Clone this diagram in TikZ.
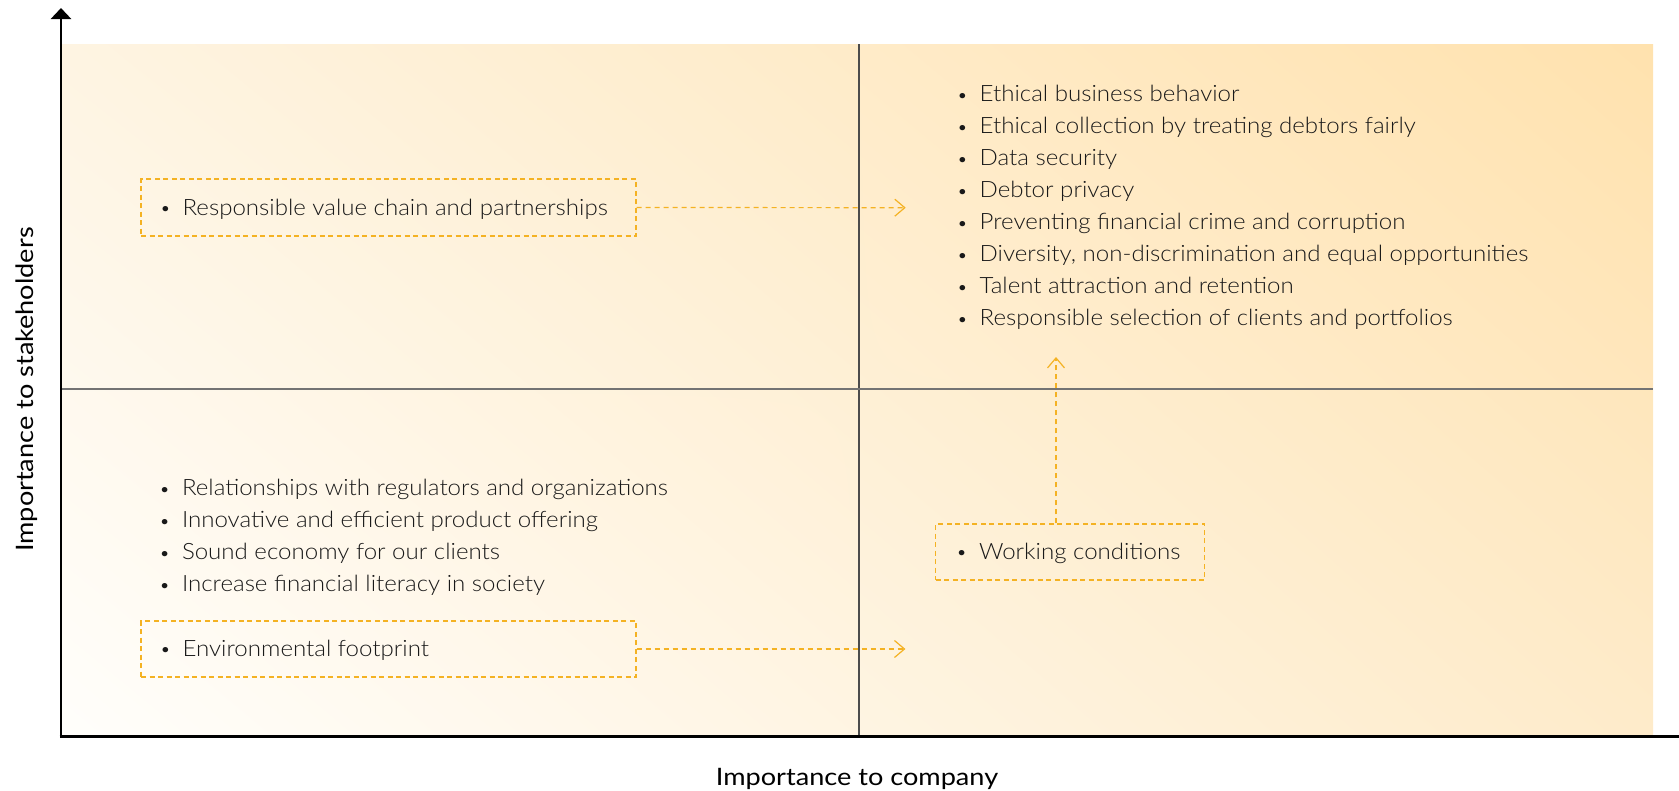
\documentclass[tikz,border=0pt]{standalone}
\usepackage{fontspec}
\setmainfont{Lato}[FakeStretch=1.13]
\newfontfamily\lightfont{Lato Light}[FakeStretch=1.07]
\usetikzlibrary{arrows.meta,calc,shadings}
\definecolor{amber}{HTML}{F4B223}
\definecolor{ulc}{HTML}{FEF4E2}
\definecolor{urc}{HTML}{FFE2AE}
\definecolor{llc}{HTML}{FFFEFB}
\definecolor{lrc}{HTML}{FEEBCA}
\newcommand{\bul}{\makebox[22.8pt][l]{\raisebox{0.5pt}{\scalebox{0.8}{•}}}}
\begin{document}
\begin{tikzpicture}[x=1pt,y=-1pt,
  item/.style={anchor=base west,inner sep=0pt,font=\lightfont\fontsize{22.5}{26}\selectfont,text=black!90},
  dbox/.style={draw=amber,dash pattern=on 5pt off 3.5pt,line width=1.2pt,inner sep=0pt},
  flow/.style={draw=amber,dash pattern=on 5pt off 4pt,line width=1.2pt,-{Straight Barb[length=10pt,width=17pt,line width=1.2pt]}},
  axisline/.style={line width=2.7pt,black},
  axlabel/.style={font=\fontsize{24}{28}\selectfont,inner sep=0pt,text=black}]
\useasboundingbox (0,0) rectangle (1679,790);
% background gradient
\shade[upper left=ulc,upper right=urc,lower left=llc,lower right=lrc] (62,44) rectangle (1653,736);
% dividers
\draw[black!70,line width=1.3pt] (859,44) -- (859,736);
\draw[black!55,line width=2pt] (62,389) -- (1653,389);
% axes
\coordinate (origin) at (61,736);
\coordinate (ytop) at (61,8);
\coordinate (xend) at (1679,736);
\draw[axisline,-{Triangle[length=11pt,width=20pt]}] (origin) -- (ytop);
\draw[axisline,line width=3pt] (59.6,736) -- (xend);
% axis labels
\node[axlabel,anchor=base] (xlab) at (857,785) {Importance to company};
\node[axlabel,anchor=base,rotate=90] (ylab) at (33,389.6) {Importance to stakeholders};
% top right list
\foreach \t [count=\i from 0] in {Ethical business behavior,
  Ethical collection by treating debtors fairly,
  Data security,
  Debtor privacy,
  Preventing financial crime and corruption,
  {Diversity, non-discrimination and equal opportunities},
  Talent attraction and retention,
  Responsible selection of clients and portfolios}
  \node[item] (tr\i) at (956.7,{101.7+32*\i}) {\bul\t};
% bottom left list
\foreach \t [count=\i from 0] in {Relationships with regulators and organizations,
  Innovative and efficient product offering,
  Sound economy for our clients,
  Increase financial literacy in society}
  \node[item] (bl\i) at (159,{495.7+32*\i}) {\bul\t};
% dashed boxes
\node[dbox,minimum width=495pt,minimum height=57pt] (b1) at (388.5,207.5) {};
\node[item] (b1t) at (159.6,215.2) {\bul Responsible value chain and partnerships};
\node[dbox,minimum width=495pt,minimum height=56pt] (b2) at (388.5,649) {};
\node[item] (b2t) at (159.6,656) {\bul Environmental footprint};
\node[dbox,minimum width=269pt,minimum height=56pt] (b3) at (1070.2,552) {};
\node[item] (b3t) at (956,559.3) {\bul Working conditions};
% flows
\coordinate (tip1) at (905.7,207.7);
\coordinate (tip2) at (905.4,649);
\coordinate (tip3) at (1056,357);
\draw[flow] (b1.east) -- (tip1);
\draw[flow] (b2.east) -- (tip2);
\draw[flow] (b3.north -| tip3) -- (tip3);
\end{tikzpicture}
\end{document}
